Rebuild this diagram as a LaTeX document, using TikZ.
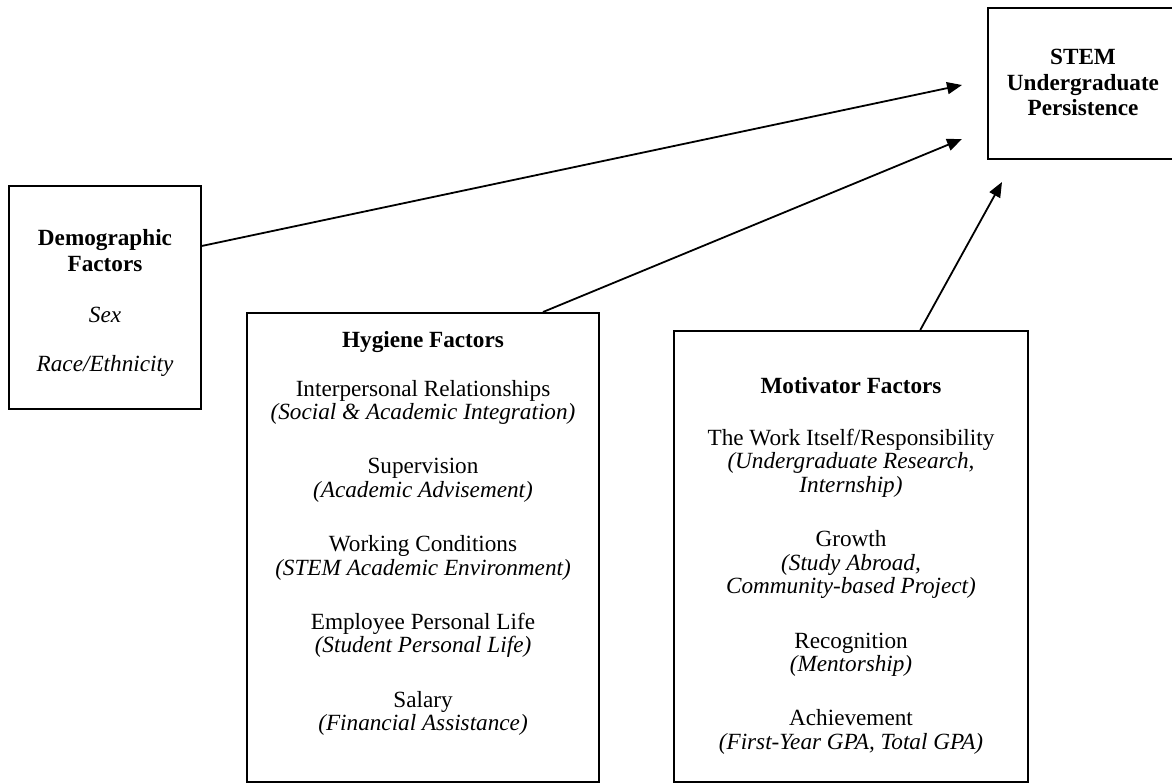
\documentclass[tikz,border=0pt]{standalone}
\usepackage{fontspec}
\setmainfont{Liberation Serif}
\usetikzlibrary{arrows.meta,positioning}

\newcommand{\headline}[1]{\textbf{#1}}

\tikzset{
  factorbox/.style={draw,line width=1pt,inner sep=0pt},
  factortext/.style={align=center,inner sep=0pt,font=\fontsize{11.6}{11.75}\selectfont},
  causal/.style={line width=0.9pt,-{Triangle[length=7.5pt,width=6pt]}}
}

\begin{document}
\begin{tikzpicture}[x=0.5pt,y=-0.5pt]
\useasboundingbox (0,0) rectangle (1172,783);
% boxes
\draw (105,297.5) node[factorbox,minimum width=96pt,minimum height=111.5pt](demo) {};
\draw (1083,83.5) node[factorbox,minimum width=95pt,minimum height=75.5pt](stem) {};
\draw (423,547.5) node[factorbox,minimum width=176pt,minimum height=234.5pt](hyg) {};
\draw (851,556.5) node[factorbox,minimum width=177pt,minimum height=225.5pt](mot) {};
% texts
\node[factortext,anchor=north] (demotext) at (105,229) {\headline{Demographic}\\[1.25pt]
  \headline{Factors}\\[13.5pt] \textit{Sex}\\[12.75pt] \textit{Race/Ethnicity}};
\node[factortext,anchor=north] (stemtext) at (1083,49) {\headline{STEM}\\[1.25pt]
  \headline{Undergraduate}\\[0.5pt] \headline{Persistence}};
\node[factortext,anchor=north] (hygtext) at (423,331) {\headline{Hygiene Factors}\\[12.5pt]
  Interpersonal Relationships\\ \textit{(Social \& Academic Integration)}\\[15.4pt]
  Supervision\\ \textit{(Academic Advisement)}\\[15.4pt]
  Working Conditions\\ \textit{(STEM Academic Environment)}\\[15.4pt]
  Employee Personal Life\\ \textit{(Student Personal Life)}\\[15.4pt]
  Salary\\ \textit{(Financial Assistance)}};
\node[factortext,anchor=north] (mottext) at (851,377) {\headline{Motivator Factors}\\[14pt]
  The Work Itself/Responsibility\\ \textit{(Undergraduate Research,}\\ \textit{Internship)}\\[15.5pt]
  Growth\\ \textit{(Study Abroad,}\\ \textit{Community-based Project)}\\[15.5pt]
  Recognition\\ \textit{(Mentorship)}\\[15.4pt]
  Achievement\\ \textit{(First-Year GPA, Total GPA)}};
% arrows
\coordinate (tipdemo) at (962,85);
\coordinate (tiphyg) at (962,139);
\coordinate (tipmot) at (1002,182);
\draw[causal] (demo.28.2) -- (tipdemo);
\draw[causal] (hyg.63.1) -- (tiphyg);
\draw[causal] (mot.73.7) -- (tipmot);
\end{tikzpicture}
\end{document}
